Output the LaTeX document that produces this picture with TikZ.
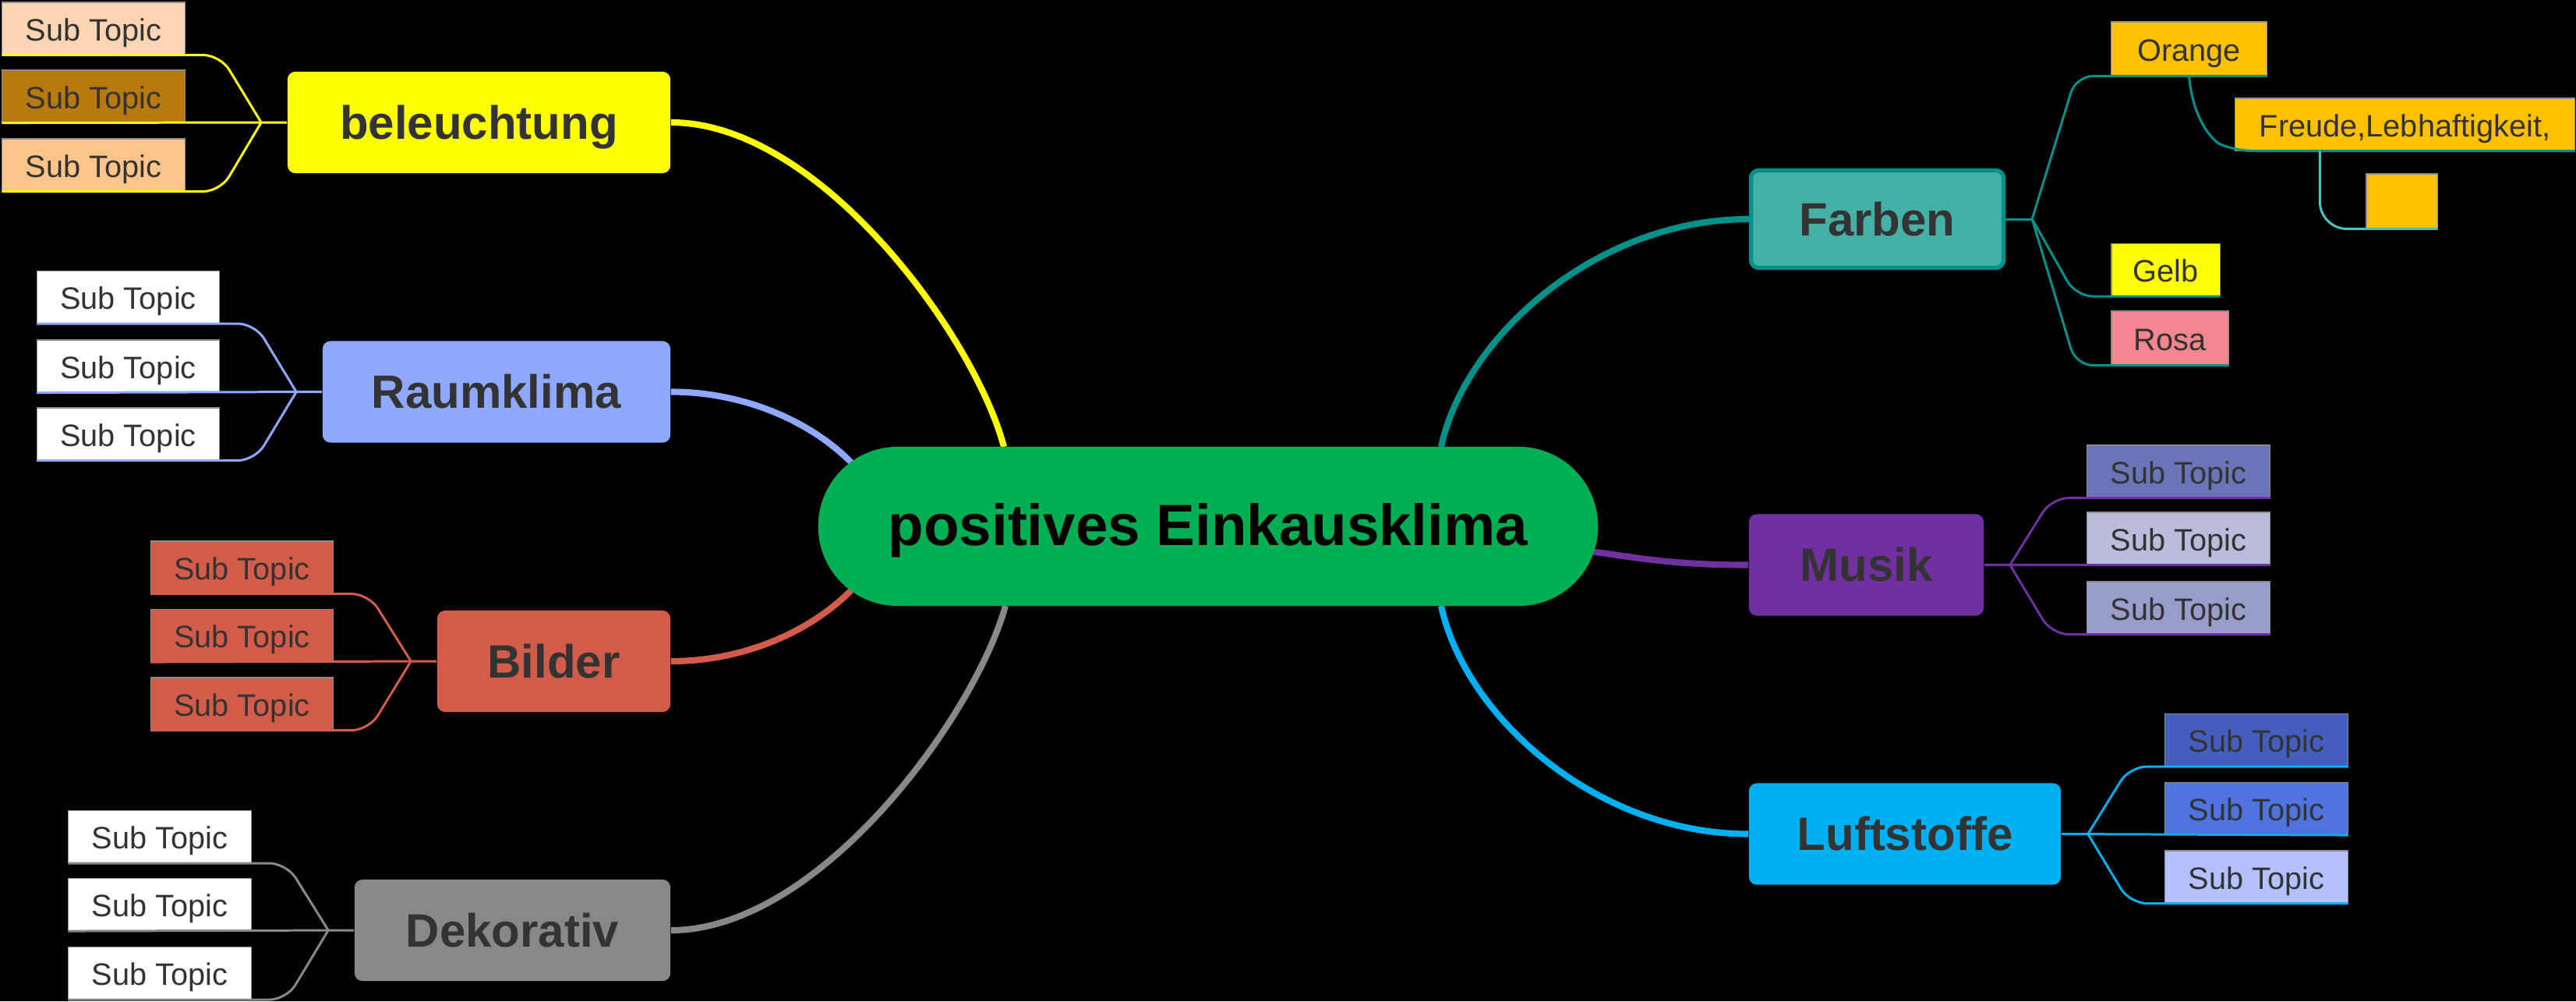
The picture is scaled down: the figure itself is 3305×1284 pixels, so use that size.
\documentclass[tikz,border=0pt]{standalone}
\usepackage{fontspec}
\setmainfont{Liberation Sans}
\usepackage{tikz}
\usetikzlibrary{calc}
\definecolor{cengreen}{HTML}{00AE53}
\definecolor{txtgray}{HTML}{333333}
\definecolor{belyellow}{HTML}{FFFF00}
\definecolor{raumblue}{HTML}{8EA9FF}
\definecolor{bildred}{HTML}{D35B4A}
\definecolor{dekogray}{HTML}{888888}
\definecolor{farbfill}{HTML}{45B0A6}
\definecolor{farbteal}{HTML}{00918A}
\definecolor{lightteal}{HTML}{4BC4BE}
\definecolor{musikpurple}{HTML}{7030A0}
\definecolor{luftblue}{HTML}{00B0F0}
\definecolor{belsuba}{HTML}{FCD5B4}
\definecolor{belsubb}{HTML}{B8790E}
\definecolor{belsubc}{HTML}{FBC58A}
\definecolor{orangefill}{HTML}{FFC000}
\definecolor{rosafill}{HTML}{F3868F}
\definecolor{musiksuba}{HTML}{6A75B8}
\definecolor{musiksubb}{HTML}{BABCDB}
\definecolor{musiksubc}{HTML}{989DC9}
\definecolor{luftsuba}{HTML}{435EBD}
\definecolor{luftsubb}{HTML}{4F74DF}
\definecolor{luftsubc}{HTML}{B5C1FF}
\tikzstyle{central}=[fill=cengreen,rounded corners=1.02cm,minimum width=10cm,minimum height=2.04cm,inner sep=0pt,text height=.56cm,text depth=.08cm,font={\fontsize{21.2}{25}\selectfont\bfseries}]
\tikzstyle{maintopic}=[rounded corners=1mm,minimum height=1.3cm,inner sep=0pt,text height=.46cm,text depth=.04cm,text=txtgray,font={\fontsize{17.07}{20}\selectfont\bfseries}]
\tikzstyle{subtopic}=[draw=black!45,line width=.3pt,minimum width=2.34cm,minimum height=.67cm,inner sep=0pt,text height=.33cm,text depth=.02cm,text=txtgray,font={\fontsize{11.3}{13.5}\selectfont}]
\tikzstyle{mainlink}=[line width=2.3pt]
\tikzstyle{sublink}=[line width=.85pt,rounded corners=2.2mm]
\pgfdeclarelayer{bg}
\pgfsetlayers{bg,main}
\begin{document}
\begin{tikzpicture}[x=0.01cm,y=-0.01cm]
    \useasboundingbox (0,0) rectangle (3305,1284);
    \node [central] (cen) at (1550,675) {positives Einkausklima};

    \node [maintopic,fill=belyellow,minimum width=4.91cm] (bel) at (614.5,157) {beleuchtung};
    \node [maintopic,fill=raumblue,minimum width=4.46cm] (raum) at (637,502.5) {Raumklima};
    \node [maintopic,fill=bildred,minimum width=2.99cm] (bild) at (710.5,848) {Bilder};
    \node [maintopic,fill=dekogray,minimum width=4.05cm] (deko) at (657.5,1193) {Dekorativ};
    \node [maintopic,fill=farbfill,draw=farbteal,line width=1.5pt,minimum width=3.24cm,minimum height=1.25cm] (farb) at (2408.5,281) {Farben};
    \node [maintopic,fill=musikpurple,minimum width=3.01cm] (musik) at (2394.5,724.5) {Musik};
    \node [maintopic,fill=luftblue,minimum width=4cm] (luft) at (2444,1069.5) {Luftstoffe};

    \node [subtopic,fill=belsuba] (bel1) at (120,36.5) {Sub Topic};
    \node [subtopic,fill=belsubb] (bel2) at (120,123.5) {Sub Topic};
    \node [subtopic,fill=belsubc] (bel3) at (120,211.5) {Sub Topic};
    \node [subtopic,fill=white] (raum1) at (164.5,381) {Sub Topic};
    \node [subtopic,fill=white] (raum2) at (164.5,469.5) {Sub Topic};
    \node [subtopic,fill=white] (raum3) at (164.5,556.5) {Sub Topic};
    \node [subtopic,fill=bildred] (bild1) at (310.5,727.5) {Sub Topic};
    \node [subtopic,fill=bildred] (bild2) at (310.5,815) {Sub Topic};
    \node [subtopic,fill=bildred] (bild3) at (310.5,902.5) {Sub Topic};
    \node [subtopic,fill=white] (deko1) at (205,1073) {Sub Topic};
    \node [subtopic,fill=white] (deko2) at (205,1160) {Sub Topic};
    \node [subtopic,fill=white] (deko3) at (205,1248) {Sub Topic};

    \node [subtopic,fill=orangefill,minimum width=1.99cm,minimum height=.69cm] (org) at (2808.5,62.5) {Orange};
    \node [subtopic,fill=orangefill,minimum width=4.35cm] (freu) at (3085.5,159.5) {Freude,Lebhaftigkeit,};
    \node [subtopic,fill=orangefill,minimum width=.91cm,minimum height=.7cm] (small) at (3081.5,258) {};
    \node [subtopic,fill=belyellow,minimum width=1.39cm] (gelb) at (2778.5,346) {Gelb};
    \node [subtopic,fill=rosafill,minimum width=1.5cm,minimum height=.69cm] (rosa) at (2784,433.5) {Rosa};
    \node [subtopic,fill=musiksuba] (musik1) at (2795,604.5) {Sub Topic};
    \node [subtopic,fill=musiksubb] (musik2) at (2795,690.5) {Sub Topic};
    \node [subtopic,fill=musiksubc] (musik3) at (2795,779.5) {Sub Topic};
    \node [subtopic,fill=luftsuba] (luft1) at (2895,949) {Sub Topic};
    \node [subtopic,fill=luftsubb] (luft2) at (2895,1037) {Sub Topic};
    \node [subtopic,fill=luftsubc] (luft3) at (2895,1124.5) {Sub Topic};

    \coordinate (belb) at ($(bel.west)+(-33,0)$);
    \coordinate (raumb) at ($(raum.west)+(-33,0)$);
    \coordinate (bildb) at ($(bild.west)+(-33,0)$);
    \coordinate (dekob) at ($(deko.west)+(-33,0)$);
    \coordinate (farbb) at ($(farb.east)+(34,0)$);
    \coordinate (musikb) at ($(musik.east)+(33,0)$);
    \coordinate (luftb) at ($(luft.east)+(34,0)$);
    \coordinate (freub) at ($(freu.south west)+(109,0)$);

    \begin{pgfonlayer}{bg}
      \fill [black] (0,0) rectangle (3305,1284);
      \draw [mainlink,belyellow] (bel.east) .. controls +(190,0) and +(-38,-143) .. ($(cen.center)+(-262,-102)$);
      \draw [mainlink,raumblue] (raum.east) .. controls +(100,0) and +(-47,-48) .. ($(cen.center)+(-458,-82)$);
      \draw [mainlink,bildred] (bild.east) .. controls +(100,0) and +(-47,48) .. ($(cen.center)+(-458,82)$);
      \draw [mainlink,dekogray] (deko.east) .. controls +(190,0) and +(-40,143) .. ($(cen.center)+(-260,102)$);
      \draw [mainlink,farbteal] (farb.west) .. controls +(-194,0) and +(31,-143) .. ($(cen.center)+(299,-102)$);
      \draw [mainlink,musikpurple] (musik.west) .. controls +(-100,0) and +(60,8) .. ($(cen.center)+(490,32)$);
      \draw [mainlink,luftblue] (luft.west) .. controls +(-194,0) and +(31,143) .. ($(cen.center)+(299,102)$);
    \end{pgfonlayer}

    \draw [sublink,belyellow] (bel.west) -- (bel2.south west);
    \draw [sublink,belyellow] (belb) -- ($(bel1.south east)+(45,0)$) -- (bel1.south west);
    \draw [sublink,belyellow] (belb) -- ($(bel3.south east)+(45,0)$) -- (bel3.south west);
    \draw [sublink,raumblue] (raum.west) -- (raum2.south west);
    \draw [sublink,raumblue] (raumb) -- ($(raum1.south east)+(45,0)$) -- (raum1.south west);
    \draw [sublink,raumblue] (raumb) -- ($(raum3.south east)+(45,0)$) -- (raum3.south west);
    \draw [sublink,bildred] (bild.west) -- (bild2.south west);
    \draw [sublink,bildred] (bildb) -- ($(bild1.south east)+(45,0)$) -- (bild1.south west);
    \draw [sublink,bildred] (bildb) -- ($(bild3.south east)+(45,0)$) -- (bild3.south west);
    \draw [sublink,dekogray] (deko.west) -- (deko2.south west);
    \draw [sublink,dekogray] (dekob) -- ($(deko1.south east)+(45,0)$) -- (deko1.south west);
    \draw [sublink,dekogray] (dekob) -- ($(deko3.south east)+(45,0)$) -- (deko3.south west);

    \draw [sublink,farbteal] (farb.east) -- (farbb);
    \draw [sublink,farbteal] (farbb) -- ($(org.south west)+(-45,0)$) -- (org.south east);
    \draw [sublink,farbteal] (farbb) -- ($(gelb.south west)+(-45,0)$) -- (gelb.south east);
    \draw [sublink,farbteal] (farbb) -- ($(rosa.south west)+(-45,0)$) -- (rosa.south east);
    \draw [sublink,farbteal] (org.south) .. controls +(6,65) and +(-22,-10) .. (freu.south west) -- (freu.south east);
    \draw [sublink,lightteal,rounded corners=3.5mm] (freub) -- (freub |- small.south) -- (small.south east);
    \draw [sublink,musikpurple] (musik.east) -- (musik2.south east);
    \draw [sublink,musikpurple] (musikb) -- ($(musik1.south west)+(-45,0)$) -- (musik1.south east);
    \draw [sublink,musikpurple] (musikb) -- ($(musik3.south west)+(-45,0)$) -- (musik3.south east);
    \draw [sublink,luftblue] (luft.east) -- (luft2.south east);
    \draw [sublink,luftblue] (luftb) -- ($(luft1.south west)+(-45,0)$) -- (luft1.south east);
    \draw [sublink,luftblue] (luftb) -- ($(luft3.south west)+(-45,0)$) -- (luft3.south east);
\end{tikzpicture}
\end{document}
